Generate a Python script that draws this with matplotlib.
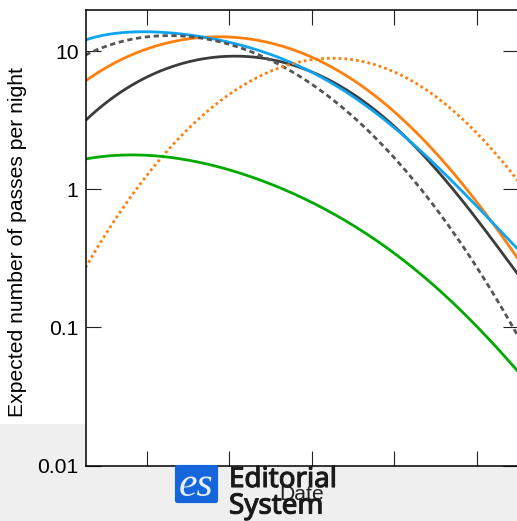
import numpy as np
import matplotlib
matplotlib.use("Agg")
import matplotlib.pyplot as plt
import matplotlib.patheffects as pe
from matplotlib.patches import Rectangle, FancyBboxPatch
from matplotlib.ticker import NullLocator, FixedLocator, FixedFormatter

W, H = 517, 521
plt.rcParams['font.family'] = ['Liberation Sans', 'DejaVu Sans']

x_pos = [-0.745, -0.4, 0, 0.4, 0.6, 1, 1.4, 1.85, 2.15, 2.55, 2.95, 3.25, 3.65, 4.05, 4.5]
blue = [12.1, 13.3, 13.7, 13.5, 13.05, 11.5, 9.75, 7.66, 6.43, 4.50, 2.97, 2.06, 1.19, 0.722, 0.365]
orange = [6.07, 8.19, 10.3, 12.0, 12.5, 12.7, 11.7, 9.75, 8.33, 5.87, 3.87, 2.60, 1.48, 0.734, 0.314]
black = [3.17, 4.58, 6.49, 8.19, 8.75, 9.05, 8.61, 7.60, 6.71, 4.65, 3.04, 1.99, 1.11, 0.562, 0.241]
grey_dash = [9.36, 11.4, 12.5, 12.9, 12.7, 11.2, 9.10, 6.52, 5.06, 3.07, 1.83, 1.19, 0.517, 0.253, 0.0858]
orange_dot = [0.271, 0.581, 1.27, 2.39, 3.12, 4.81, 6.71, 8.47, 8.83, 8.47, 7.29, 5.97, 3.94, 2.39, 1.15]
green = [1.66, 1.74, 1.77, 1.67, 1.58, 1.38, 1.13, 0.896, 0.734, 0.517, 0.359, 0.266, 0.162, 0.0948, 0.0479]

y_ticks = [0.01, 0.1, 1, 10]
y_labels = ['0.01', '0.1', '1', '10']
x_ticks = [0, 1, 2, 3, 4]


def smooth(xs, ys):
    """Smooth drawing path through the read values, fitted on the log axis."""
    xs = np.asarray(xs)
    coef = np.polyfit(xs, np.log10(ys), 6)
    xx = np.linspace(xs[0], xs[-1], 300)
    return xx, 10 ** np.polyval(coef, xx)


fig = plt.figure(figsize=(W / 100, H / 100), dpi=100, facecolor='white')
fig.patches.append(Rectangle((0, 0), 1, (H - 424) / H, transform=fig.transFigure,
                             facecolor='#efefef', edgecolor='none', zorder=-5))

# logo
fig.patches.append(FancyBboxPatch((177 / W, (H - 501) / H), 39 / W, 34 / H, transform=fig.transFigure,
                                  boxstyle='round,pad=0.004,rounding_size=0.005',
                                  facecolor='#1565dc', edgecolor='none', zorder=5))
fig.text(196.5 / W, (H - 495.5) / H, 'es', family='Liberation Serif', style='italic', color='#e8f0fb',
         fontsize=30, ha='center', va='baseline', zorder=6)
stroke = [pe.withStroke(linewidth=0.8, foreground='#1a1a1a')]
fig.text(229 / W, (H - 487) / H, 'Editorial', family='Noto Sans', color='#1a1a1a',
         fontsize=20, ha='left', va='baseline', zorder=6, path_effects=stroke)
fig.text(229 / W, (H - 513.5) / H, 'System', family='Noto Sans', color='#1a1a1a',
         fontsize=20, ha='left', va='baseline', zorder=6, path_effects=stroke)

ax = fig.add_axes([85.5 / W, (H - 465.5) / H, (518 - 85.5) / W, (465.5 - 9.5) / H], facecolor='white')
ax.set_yscale('log')
ax.set_xlim(-0.745, 4.5)
ax.set_ylim(0.01, 20)
lw = 2.0
ax.plot(*smooth(x_pos, black), color='#3c3c3c', lw=lw, solid_capstyle='butt')
ax.plot(*smooth(x_pos, orange), color='#ff7f0e', lw=lw, solid_capstyle='butt')
ax.plot(*smooth(x_pos, blue), color='#0ea5ee', lw=lw, solid_capstyle='butt')
ax.plot(*smooth(x_pos, grey_dash), color='#555555', lw=lw, ls=(0, (1.9, 1.3)))
ax.plot(*smooth(x_pos, orange_dot), color='#ff7f0e', lw=lw, ls=(0, (1, 1.1)))
ax.plot(*smooth(x_pos, green), color='#00aa00', lw=lw, solid_capstyle='butt')

ax.yaxis.set_major_locator(FixedLocator(y_ticks))
ax.yaxis.set_major_formatter(FixedFormatter(y_labels))
ax.yaxis.set_minor_locator(NullLocator())
ax.xaxis.set_major_locator(FixedLocator(x_ticks))
ax.xaxis.set_minor_locator(NullLocator())
ax.tick_params(axis='both', which='major', direction='in', length=11, width=0.8, color='#222222',
               top=True, right=True, labelsize=15.2, labelbottom=False)
ax.tick_params(axis='y', pad=5)
for s in ax.spines.values():
    s.set_linewidth(1.1)
    s.set_color('black')
ax.set_ylabel('Expected number of passes per night', fontsize=15.2)
ax.yaxis.set_label_coords((27.5 - 85.5) / (518 - 85.5), (465.5 - 242) / (465.5 - 9.5))
ax.set_xlabel('Date', fontsize=15.2, color='#222222')
ax.xaxis.set_label_coords(0.5, -(494 - 465.5) / (465.5 - 9.5))
ax.xaxis.label.set_va('center')
ax.set_zorder(1)
fig.savefig('out.png', dpi=100)
